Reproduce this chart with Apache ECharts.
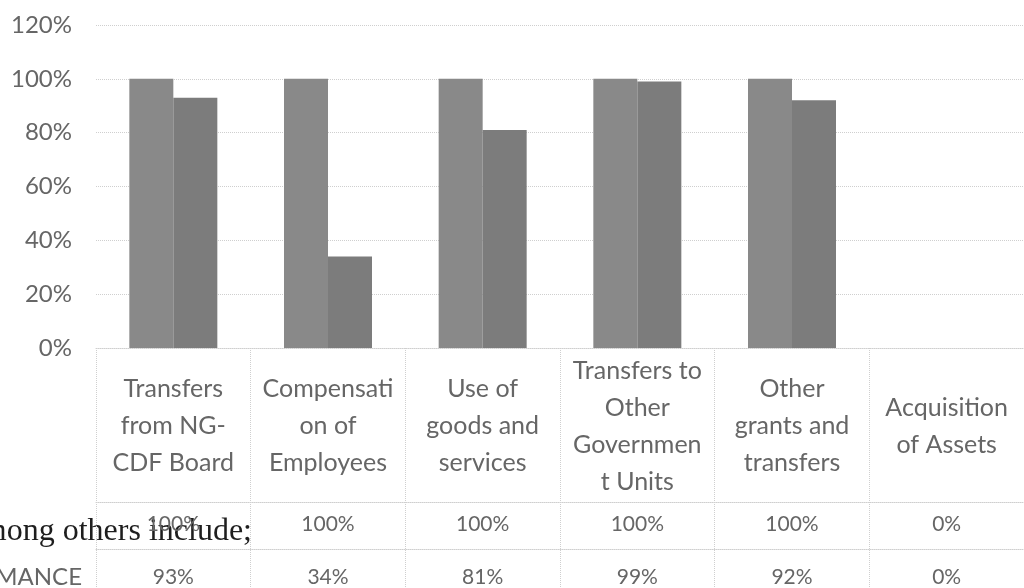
<!DOCTYPE html>
<html>
<head>
<meta charset="utf-8">
<script src="https://cdn.jsdelivr.net/npm/echarts@6/dist/echarts.min.js"></script>
<style>
  html, body { margin: 0; padding: 0; background: #fff; }
  #chart { width: 1024px; height: 588px; }
</style>
</head>
<body>
<div id="chart"></div>
<script>
// category labels wrapped the way the table cells show them
const categories = [
    'Transfers\nfrom NG-\nCDF Board',
    'Compensati\non of\nEmployees',
    'Use of\ngoods and\nservices',
    'Transfers to\nOther\nGovernmen\nt Units',
    'Other\ngrants and\ntransfers',
    'Acquisition\nof Assets'
];
const budget = [100, 100, 100, 100, 100, 0];
const performance = [93, 34, 81, 99, 92, 0];
const yTicks = [0, 20, 40, 60, 80, 100, 120];

const textColor = '#666';
const fontFam = 'Lato, "Open Sans", sans-serif';
const dotted = {color: '#cfcfcf', type: 'dotted', width: 1};

const chart = echarts.init(document.getElementById('chart'), null, {renderer: 'canvas'});
const option = {
    animation: false,
    backgroundColor: '#fff',
    grid: {left: 96, top: 25, width: 936, height: 323},
    xAxis: [
        {
            type: 'category',
            data: categories,
            axisLine: {show: true, lineStyle: dotted},
            axisTick: {show: true, length: 240, alignWithLabel: false, lineStyle: dotted},
            axisLabel: {
                interval: 0,
                margin: 78,
                verticalAlign: 'middle',
                fontSize: 25,
                lineHeight: 37,
                color: textColor,
                fontFamily: fontFam
            }
        },
        {
            type: 'category',
            data: categories,
            position: 'bottom',
            offset: 154,
            axisLine: {show: true, lineStyle: dotted},
            axisTick: {show: false},
            axisLabel: {
                interval: 0,
                margin: 22,
                verticalAlign: 'middle',
                fontSize: 21,
                color: textColor,
                fontFamily: fontFam,
                formatter: function (v, i) { return budget[i] + '%'; }
            }
        },
        {
            type: 'category',
            data: categories,
            position: 'bottom',
            offset: 201,
            axisLine: {show: true, lineStyle: dotted},
            axisTick: {show: false},
            axisLabel: {
                interval: 0,
                margin: 28,
                verticalAlign: 'middle',
                fontSize: 21,
                color: textColor,
                fontFamily: fontFam,
                formatter: function (v, i) { return performance[i] + '%'; }
            }
        }
    ],
    yAxis: {
        type: 'value',
        min: yTicks[0],
        max: yTicks[yTicks.length - 1],
        interval: 20,
        axisLine: {show: false},
        axisTick: {show: false},
        splitLine: {show: true, lineStyle: dotted},
        axisLabel: {
            margin: 24,
            fontSize: 24,
            color: textColor,
            fontFamily: fontFam,
            formatter: '{value}%'
        }
    },
    series: [
        {
            name: 'BUDGET',
            type: 'bar',
            data: budget,
            barWidth: 44,
            barGap: '0%',
            itemStyle: {color: '#898989'}
        },
        {
            name: 'PERFORMANCE',
            type: 'bar',
            data: performance,
            barWidth: 44,
            barGap: '0%',
            itemStyle: {color: '#7c7c7c'}
        }
    ],
    graphic: [
        {
            type: 'text',
            x: 82, y: 577,
            style: {text: 'PERFORMANCE', align: 'right', verticalAlign: 'middle', fontSize: 24, fill: textColor, fontFamily: fontFam}
        },
        {
            type: 'text',
            x: 252, y: 532,
            style: {text: 'among others include;', align: 'right', verticalAlign: 'middle', fontSize: 32, fill: '#1e1e1e', fontFamily: '"Liberation Serif", serif'}
        }
    ]
};
chart.setOption(option);
</script>
</body>
</html>
